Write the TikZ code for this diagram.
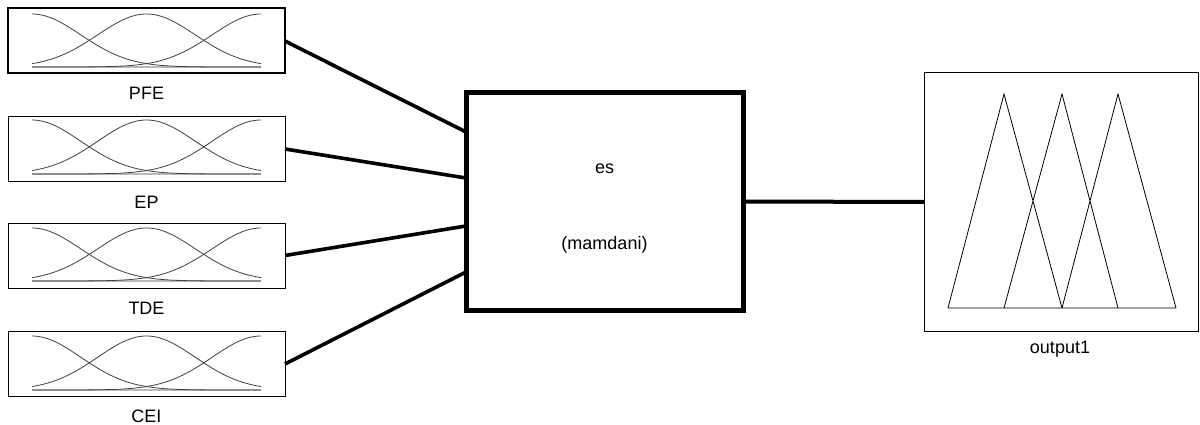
\documentclass[tikz,border=0pt]{standalone}
\usepackage{fontspec}
\setmainfont{Liberation Sans}
\usetikzlibrary{calc}
\newcommand\mfset[2]{%
  \draw[gray!55, line width=1.6pt] (32,#2) -- (261,#2);
  \foreach \c in {32,146.5,261}
    \draw[mf] plot[domain=32:261,samples=90,smooth] (\x,{#2-(#2-#1)*exp(-0.5*((\x-\c)/48.8)^2)});
}
\begin{document}
\begin{tikzpicture}[x=1pt,y=-1pt,
  inbox/.style={draw, line width=1pt, minimum width=277pt, minimum height=65pt, inner sep=0pt, outer sep=0pt},
  lbl/.style={font=\fontsize{18}{20}\selectfont, inner sep=0pt},
  conn/.style={line width=3.6pt},
  mf/.style={draw=black!75, line width=0.8pt},
  fis/.style={draw, line width=5pt, minimum width=277pt, minimum height=217pt, inner sep=0pt, outer sep=0pt},
  outbox/.style={draw, line width=1pt, minimum width=274pt, minimum height=258pt, inner sep=0pt, outer sep=0pt}]
\useasboundingbox (0,0) rectangle (1200,425);

% input boxes
\node[inbox, line width=2pt] (in1) at (146.5,41) {};
\node[inbox] (in2) at (146.5,149) {};
\node[inbox] (in3) at (146.5,255.5) {};
\node[inbox] (in4) at (146.5,364) {};
\mfset{14}{67}
\mfset{120}{174}
\mfset{228}{281}
\mfset{336}{390}
\node[lbl] (l1) at (146.5,93.5) {PFE};
\node[lbl] (l2) at (146.5,202) {EP};
\node[lbl] (l3) at (146.5,308.5) {TDE};
\node[lbl] (l4) at (146.5,416) {CEI};

% FIS box
\node[fis] (es) at (604.5,201.5) {};
\node[lbl] (esname) at (604.5,168.5) {es};
\node[lbl] (estype) at (604.5,245) {(mamdani)};

% output box
\node[outbox] (out) at (1061,202) {};
\draw[line width=0.8pt, line join=miter]
  (948,308) -- (1004,94) -- (1062,308)
  (1004,308) -- (1062,94) -- (1118,308)
  (1062,308) -- (1118,94) -- (1176,308)
  (948,308) -- (1176,308);
\node[lbl] (olbl) at (1060,349.5) {output1};

% connectors
\draw[conn] (in1.east) -- ([yshift=69.5pt]es.west);
\draw[conn] (in2.east) -- ([yshift=23.5pt]es.west);
\draw[conn] (in3.east) -- ([yshift=-24.5pt]es.west);
\draw[conn] (in4.east) -- ([yshift=-70.5pt]es.west);
\draw[line width=4pt] (es.east) -- (out.west);
\end{tikzpicture}
\end{document}
